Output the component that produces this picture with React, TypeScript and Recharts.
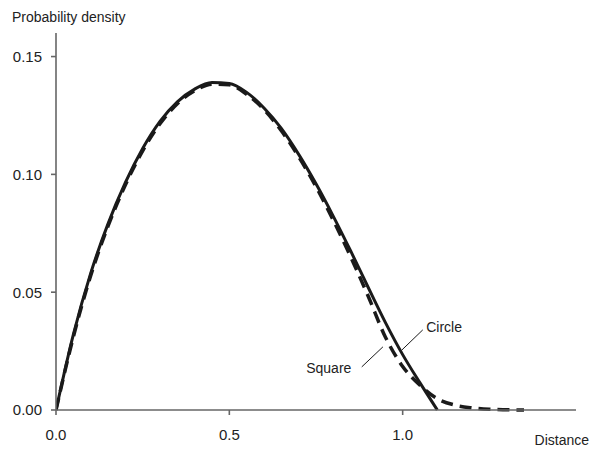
import * as React from "react";
import {
  Customized,
  Line,
  LineChart,
  ReferenceDot,
  ReferenceLine,
  XAxis,
  YAxis,
} from "recharts";

// values
const circleDistance = [
  0, 0.05, 0.1, 0.15, 0.2, 0.25, 0.3, 0.35, 0.4, 0.45, 0.5, 0.55, 0.6, 0.65,
  0.7, 0.75, 0.8, 0.85, 0.9, 0.95, 1.0, 1.05, 1.1,
];
const circleDensity = [
  0, 0.032, 0.058, 0.079, 0.0965, 0.111, 0.1225, 0.1308, 0.1362, 0.139,
  0.1386, 0.1348, 0.1282, 0.1195, 0.1085, 0.096, 0.0822, 0.0675, 0.0522,
  0.0372, 0.0235, 0.0115, 0,
];

const squareDistance = [
  0, 0.05, 0.1, 0.15, 0.2, 0.25, 0.3, 0.35, 0.4, 0.45, 0.5, 0.55, 0.6, 0.65,
  0.7, 0.75, 0.8, 0.85, 0.9, 0.95, 1.0, 1.05, 1.1, 1.15, 1.2, 1.25, 1.3, 1.35,
];
const squareDensity = [
  0, 0.031, 0.057, 0.078, 0.0955, 0.11, 0.1215, 0.13, 0.1355, 0.1383, 0.138,
  0.134, 0.1275, 0.1185, 0.1075, 0.0948, 0.0805, 0.065, 0.0485, 0.031, 0.0185,
  0.0105, 0.0048, 0.0021, 0.0009, 0.0003, 0.0001, 0,
];

const xTicks = [0, 0.5, 1.0];
const yTicks = [0, 0.05, 0.1, 0.15];

const circleData = circleDistance.map((d, i) => ({ d, p: circleDensity[i] }));
const squareData = squareDistance.map((d, i) => ({ d, p: squareDensity[i] }));

const font = "'Liberation Sans', Arial, sans-serif";
const ink = "#1a1a1a";
const axisGrey = "#666";

export default function App() {
  return (
    <div style={{ position: "absolute", left: 0, top: 0, background: "#fff" }}>
      <LineChart
        width={591}
        height={450}
        margin={{ top: 33, right: 15, bottom: 10, left: 0 }}
      >
        <XAxis
          type="number"
          dataKey="d"
          domain={[0, 1.5]}
          ticks={xTicks}
          tickFormatter={(v: number) => v.toFixed(1)}
          allowDataOverflow
          height={30}
          stroke={axisGrey}
          strokeWidth={1.6}
          tickSize={5}
          tickMargin={14}
          tick={{ fill: "#222", fontSize: 15, fontFamily: font }}
        />
        <YAxis
          type="number"
          dataKey="p"
          domain={[0, 0.16]}
          ticks={yTicks}
          tickFormatter={(v: number) => v.toFixed(2)}
          width={56}
          stroke={axisGrey}
          strokeWidth={1.6}
          tickSize={5}
          tickMargin={9}
          tick={{ fill: "#222", fontSize: 15, fontFamily: font }}
        />
        <Line
          data={squareData}
          dataKey="p"
          type="monotone"
          stroke={ink}
          strokeWidth={3.5}
          strokeDasharray="12 7"
          dot={false}
          isAnimationActive={false}
        />
        <Line
          data={circleData}
          dataKey="p"
          type="monotone"
          stroke={ink}
          strokeWidth={3}
          dot={false}
          isAnimationActive={false}
        />
        <ReferenceLine
          segment={[
            { x: 0.998, y: 0.0255 },
            { x: 1.058, y: 0.034 },
          ]}
          stroke={ink}
          strokeWidth={1}
        />
        <ReferenceLine
          segment={[
            { x: 0.882, y: 0.0183 },
            { x: 0.943, y: 0.0268 },
          ]}
          stroke={ink}
          strokeWidth={1}
        />
        <ReferenceDot
          x={1.068}
          y={0.0352}
          r={0}
          label={{
            value: "Circle",
            position: "right",
            offset: 0,
            fill: "#222",
            fontSize: 14,
            fontFamily: font,
          }}
        />
        <ReferenceDot
          x={0.852}
          y={0.0178}
          r={0}
          label={{
            value: "Square",
            position: "left",
            offset: 0,
            fill: "#222",
            fontSize: 14,
            fontFamily: font,
          }}
        />
        <Customized
          component={() => (
            <g fontFamily={font} fontSize={14} fill="#222">
              <text x={12} y={22}>
                Probability density
              </text>
              <text x={589} y={445} textAnchor="end">
                Distance
              </text>
            </g>
          )}
        />
      </LineChart>
    </div>
  );
}
